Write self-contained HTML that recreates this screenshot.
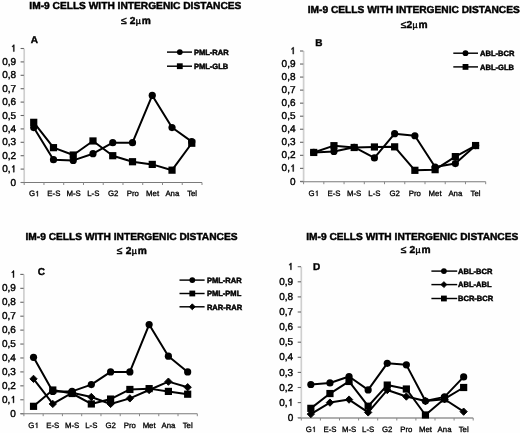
<!DOCTYPE html>
<html><head><meta charset="utf-8"><style>
html,body{margin:0;padding:0;background:#fefefe;}
body{width:520px;height:433px;overflow:hidden;}
svg{display:block;filter:blur(0.35px);}
text{font-family:"Liberation Sans", sans-serif;fill:#000;text-rendering:geometricPrecision;}
.t{font-size:10.2px;font-weight:bold;stroke:#000;stroke-width:0.45px;}
.t2{letter-spacing:0.25px;}
.mu{font-weight:normal;font-size:8.8px;}
.le{font-weight:normal;stroke-width:0.5px;}
.l{font-size:10px;font-weight:bold;stroke:#000;stroke-width:0.4px;}
.yl{font-size:10px;fill:#000;stroke:#000;stroke-width:0.4px;}
.yg{fill:#000;stroke:#000;stroke-width:82px;}
.xl{font-size:7.8px;fill:#000;stroke:#000;stroke-width:0.3px;}
.lg{font-size:7.55px;font-weight:bold;stroke:#000;stroke-width:0.45px;}
.ya{stroke:#cfcfcf;stroke-width:1.7;}
.tk{stroke:#666;stroke-width:1.1;}
.tk2{stroke:#888;stroke-width:1;}
.xa{stroke:#7a7a7a;stroke-width:1.15;}
.xad{stroke:#959595;stroke-width:1.7;}
.ll{stroke:#000;stroke-width:1.45;}
.ln{fill:none;stroke:#000;stroke-width:2.0;stroke-linejoin:round;}
</style></head><body>
<svg width="520" height="433" viewBox="0 0 520 433">
<rect width="520" height="433" fill="#fefefe"/>
<text x="135.35" y="9.3" class="t" text-anchor="middle">IM-9 CELLS WITH INTERGENIC DISTANCES</text>
<text x="136.02" y="24.1" class="t t2" text-anchor="middle"><tspan class="le">≤</tspan> 2<tspan class="mu">µ</tspan><tspan dx="0.7">m</tspan></text>
<text x="30.8" y="42.6" class="l">A</text>
<line x1="24.2" y1="48.5" x2="24.2" y2="182.5" class="ya"/>
<line x1="20.60" y1="182.50" x2="23.90" y2="182.50" class="tk"/>
<text x="16.10" y="185.60" class="yl" text-anchor="end">0</text>
<line x1="20.60" y1="169.10" x2="23.90" y2="169.10" class="tk"/>
<text x="10.54" y="172.20" class="yl" text-anchor="end">0,</text>
<path class="yg" transform="translate(10.54 172.20) scale(0.00488 -0.00488)" d="M763 0L583 0L583 1100C540 1060 480 1020 420 990C380 970 350 955 320 945L320 1110C400 1145 470 1200 520 1260C570 1320 605 1370 625 1409L763 1409Z"/>
<line x1="20.60" y1="155.70" x2="23.90" y2="155.70" class="tk"/>
<text x="16.10" y="158.80" class="yl" text-anchor="end">0,2</text>
<line x1="20.60" y1="142.30" x2="23.90" y2="142.30" class="tk"/>
<text x="16.10" y="145.40" class="yl" text-anchor="end">0,3</text>
<line x1="20.60" y1="128.90" x2="23.90" y2="128.90" class="tk"/>
<text x="16.10" y="132.00" class="yl" text-anchor="end">0,4</text>
<line x1="20.60" y1="115.50" x2="23.90" y2="115.50" class="tk"/>
<text x="16.10" y="118.60" class="yl" text-anchor="end">0,5</text>
<line x1="20.60" y1="102.10" x2="23.90" y2="102.10" class="tk"/>
<text x="16.10" y="105.20" class="yl" text-anchor="end">0,6</text>
<line x1="20.60" y1="88.70" x2="23.90" y2="88.70" class="tk"/>
<text x="16.10" y="91.80" class="yl" text-anchor="end">0,7</text>
<line x1="20.60" y1="75.30" x2="23.90" y2="75.30" class="tk"/>
<text x="16.10" y="78.40" class="yl" text-anchor="end">0,8</text>
<line x1="20.60" y1="61.90" x2="23.90" y2="61.90" class="tk"/>
<text x="16.10" y="65.00" class="yl" text-anchor="end">0,9</text>
<line x1="20.60" y1="48.50" x2="23.90" y2="48.50" class="tk"/>
<path class="yg" transform="translate(10.54 51.60) scale(0.00488 -0.00488)" d="M763 0L583 0L583 1100C540 1060 480 1020 420 990C380 970 350 955 320 945L320 1110C400 1145 470 1200 520 1260C570 1320 605 1370 625 1409L763 1409Z"/>
<line x1="21.00" y1="182.5" x2="202.0" y2="182.5" class="xa"/>
<line x1="24.20" y1="182.5" x2="24.20" y2="185.00" class="tk2"/>
<line x1="43.96" y1="182.5" x2="43.96" y2="185.00" class="tk2"/>
<line x1="63.71" y1="182.5" x2="63.71" y2="185.00" class="tk2"/>
<line x1="83.47" y1="182.5" x2="83.47" y2="185.00" class="tk2"/>
<line x1="103.22" y1="182.5" x2="103.22" y2="185.00" class="tk2"/>
<line x1="122.98" y1="182.5" x2="122.98" y2="185.00" class="tk2"/>
<line x1="142.73" y1="182.5" x2="142.73" y2="185.00" class="tk2"/>
<line x1="162.49" y1="182.5" x2="162.49" y2="185.00" class="tk2"/>
<line x1="182.24" y1="182.5" x2="182.24" y2="185.00" class="tk2"/>
<line x1="202.00" y1="182.5" x2="202.00" y2="185.00" class="tk2"/>
<text x="28.88" y="196.3" class="xl">G</text>
<path class="yg" transform="translate(34.94 196.30) scale(0.00381 -0.00381)" d="M763 0L583 0L583 1100C540 1060 480 1020 420 990C380 970 350 955 320 945L320 1110C400 1145 470 1200 520 1260C570 1320 605 1370 625 1409L763 1409Z"/>
<text x="53.83" y="196.3" class="xl" text-anchor="middle">E-S</text>
<text x="73.59" y="196.3" class="xl" text-anchor="middle">M-S</text>
<text x="93.34" y="196.3" class="xl" text-anchor="middle">L-S</text>
<text x="113.10" y="196.3" class="xl" text-anchor="middle">G2</text>
<text x="132.86" y="196.3" class="xl" text-anchor="middle">Pro</text>
<text x="152.61" y="196.3" class="xl" text-anchor="middle">Met</text>
<text x="172.37" y="196.3" class="xl" text-anchor="middle">Ana</text>
<text x="192.12" y="196.3" class="xl" text-anchor="middle">Tel</text>
<polyline points="33.73,127.56 53.48,159.72 73.24,160.39 92.99,153.69 112.75,142.70 132.51,142.70 152.26,95.40 172.02,127.56 191.77,141.63" class="ln"/>
<circle cx="33.73" cy="127.56" r="3.60"/>
<circle cx="53.48" cy="159.72" r="3.60"/>
<circle cx="73.24" cy="160.39" r="3.60"/>
<circle cx="92.99" cy="153.69" r="3.60"/>
<circle cx="112.75" cy="142.70" r="3.60"/>
<circle cx="132.51" cy="142.70" r="3.60"/>
<circle cx="152.26" cy="95.40" r="3.60"/>
<circle cx="172.02" cy="127.56" r="3.60"/>
<circle cx="191.77" cy="141.63" r="3.60"/>
<polyline points="33.73,122.33 53.48,147.66 73.24,155.03 92.99,140.96 112.75,155.70 132.51,161.73 152.26,164.41 172.02,170.17 191.77,143.24" class="ln"/>
<rect x="30.13" y="118.73" width="7.20" height="7.20"/>
<rect x="49.88" y="144.06" width="7.20" height="7.20"/>
<rect x="69.64" y="151.43" width="7.20" height="7.20"/>
<rect x="89.39" y="137.36" width="7.20" height="7.20"/>
<rect x="109.15" y="152.10" width="7.20" height="7.20"/>
<rect x="128.91" y="158.13" width="7.20" height="7.20"/>
<rect x="148.66" y="160.81" width="7.20" height="7.20"/>
<rect x="168.42" y="166.57" width="7.20" height="7.20"/>
<rect x="188.17" y="139.64" width="7.20" height="7.20"/>
<line x1="167" y1="52.1" x2="192" y2="52.1" class="ll"/>
<circle cx="179.80" cy="52.10" r="2.90"/>
<text x="193.9" y="54.80" class="lg">PML-RAR</text>
<line x1="167" y1="66.2" x2="192" y2="66.2" class="ll"/>
<rect x="176.90" y="63.30" width="5.80" height="5.80"/>
<text x="193.9" y="68.90" class="lg">PML-GLB</text>
<text x="413.8" y="13.0" class="t" text-anchor="middle">IM-9 CELLS WITH INTERGENIC DISTANCES</text>
<text x="414.22" y="27.7" class="t t2" text-anchor="middle"><tspan class="le">≤</tspan>2<tspan class="mu">µ</tspan><tspan dx="0.7">m</tspan></text>
<text x="315.3" y="46.4" class="l">B</text>
<line x1="303.6" y1="51.0" x2="303.6" y2="181.4" class="ya"/>
<line x1="300.00" y1="181.40" x2="303.30" y2="181.40" class="tk"/>
<text x="295.50" y="184.50" class="yl" text-anchor="end">0</text>
<line x1="300.00" y1="168.36" x2="303.30" y2="168.36" class="tk"/>
<text x="289.94" y="171.46" class="yl" text-anchor="end">0,</text>
<path class="yg" transform="translate(289.94 171.46) scale(0.00488 -0.00488)" d="M763 0L583 0L583 1100C540 1060 480 1020 420 990C380 970 350 955 320 945L320 1110C400 1145 470 1200 520 1260C570 1320 605 1370 625 1409L763 1409Z"/>
<line x1="300.00" y1="155.32" x2="303.30" y2="155.32" class="tk"/>
<text x="295.50" y="158.42" class="yl" text-anchor="end">0,2</text>
<line x1="300.00" y1="142.28" x2="303.30" y2="142.28" class="tk"/>
<text x="295.50" y="145.38" class="yl" text-anchor="end">0,3</text>
<line x1="300.00" y1="129.24" x2="303.30" y2="129.24" class="tk"/>
<text x="295.50" y="132.34" class="yl" text-anchor="end">0,4</text>
<line x1="300.00" y1="116.20" x2="303.30" y2="116.20" class="tk"/>
<text x="295.50" y="119.30" class="yl" text-anchor="end">0,5</text>
<line x1="300.00" y1="103.16" x2="303.30" y2="103.16" class="tk"/>
<text x="295.50" y="106.26" class="yl" text-anchor="end">0,6</text>
<line x1="300.00" y1="90.12" x2="303.30" y2="90.12" class="tk"/>
<text x="295.50" y="93.22" class="yl" text-anchor="end">0,7</text>
<line x1="300.00" y1="77.08" x2="303.30" y2="77.08" class="tk"/>
<text x="295.50" y="80.18" class="yl" text-anchor="end">0,8</text>
<line x1="300.00" y1="64.04" x2="303.30" y2="64.04" class="tk"/>
<text x="295.50" y="67.14" class="yl" text-anchor="end">0,9</text>
<line x1="300.00" y1="51.00" x2="303.30" y2="51.00" class="tk"/>
<path class="yg" transform="translate(289.94 54.10) scale(0.00488 -0.00488)" d="M763 0L583 0L583 1100C540 1060 480 1020 420 990C380 970 350 955 320 945L320 1110C400 1145 470 1200 520 1260C570 1320 605 1370 625 1409L763 1409Z"/>
<line x1="300.40" y1="181.70000000000002" x2="485.7" y2="181.70000000000002" class="xa"/>
<line x1="303.60" y1="181.70000000000002" x2="303.60" y2="184.20" class="tk2"/>
<line x1="323.83" y1="181.70000000000002" x2="323.83" y2="184.20" class="tk2"/>
<line x1="344.07" y1="181.70000000000002" x2="344.07" y2="184.20" class="tk2"/>
<line x1="364.30" y1="181.70000000000002" x2="364.30" y2="184.20" class="tk2"/>
<line x1="384.53" y1="181.70000000000002" x2="384.53" y2="184.20" class="tk2"/>
<line x1="404.77" y1="181.70000000000002" x2="404.77" y2="184.20" class="tk2"/>
<line x1="425.00" y1="181.70000000000002" x2="425.00" y2="184.20" class="tk2"/>
<line x1="445.23" y1="181.70000000000002" x2="445.23" y2="184.20" class="tk2"/>
<line x1="465.47" y1="181.70000000000002" x2="465.47" y2="184.20" class="tk2"/>
<line x1="485.70" y1="181.70000000000002" x2="485.70" y2="184.20" class="tk2"/>
<text x="308.51" y="196.0" class="xl">G</text>
<path class="yg" transform="translate(314.58 196.00) scale(0.00381 -0.00381)" d="M763 0L583 0L583 1100C540 1060 480 1020 420 990C380 970 350 955 320 945L320 1110C400 1145 470 1200 520 1260C570 1320 605 1370 625 1409L763 1409Z"/>
<text x="333.95" y="196.0" class="xl" text-anchor="middle">E-S</text>
<text x="354.18" y="196.0" class="xl" text-anchor="middle">M-S</text>
<text x="374.42" y="196.0" class="xl" text-anchor="middle">L-S</text>
<text x="394.65" y="196.0" class="xl" text-anchor="middle">G2</text>
<text x="414.88" y="196.0" class="xl" text-anchor="middle">Pro</text>
<text x="435.12" y="196.0" class="xl" text-anchor="middle">Met</text>
<text x="455.35" y="196.0" class="xl" text-anchor="middle">Ana</text>
<text x="475.58" y="196.0" class="xl" text-anchor="middle">Tel</text>
<polyline points="313.72,152.45 333.95,151.41 354.18,147.24 374.42,157.93 394.65,133.67 414.88,135.76 435.12,167.06 455.35,163.54 475.58,145.54" class="ln"/>
<circle cx="313.72" cy="152.45" r="3.60"/>
<circle cx="333.95" cy="151.41" r="3.60"/>
<circle cx="354.18" cy="147.24" r="3.60"/>
<circle cx="374.42" cy="157.93" r="3.60"/>
<circle cx="394.65" cy="133.67" r="3.60"/>
<circle cx="414.88" cy="135.76" r="3.60"/>
<circle cx="435.12" cy="167.06" r="3.60"/>
<circle cx="455.35" cy="163.54" r="3.60"/>
<circle cx="475.58" cy="145.54" r="3.60"/>
<polyline points="313.72,152.45 333.95,145.67 354.18,147.50 374.42,146.97 394.65,146.84 414.88,170.32 435.12,169.66 455.35,156.62 475.58,145.54" class="ln"/>
<rect x="310.12" y="148.85" width="7.20" height="7.20"/>
<rect x="330.35" y="142.07" width="7.20" height="7.20"/>
<rect x="350.58" y="143.90" width="7.20" height="7.20"/>
<rect x="370.82" y="143.37" width="7.20" height="7.20"/>
<rect x="391.05" y="143.24" width="7.20" height="7.20"/>
<rect x="411.28" y="166.72" width="7.20" height="7.20"/>
<rect x="431.52" y="166.06" width="7.20" height="7.20"/>
<rect x="451.75" y="153.02" width="7.20" height="7.20"/>
<rect x="471.98" y="141.94" width="7.20" height="7.20"/>
<line x1="453.3" y1="53.2" x2="478" y2="53.2" class="ll"/>
<circle cx="465.50" cy="53.20" r="2.90"/>
<text x="480" y="55.90" class="lg">ABL-BCR</text>
<line x1="453.3" y1="66.9" x2="478" y2="66.9" class="ll"/>
<rect x="462.60" y="64.00" width="5.80" height="5.80"/>
<text x="480" y="69.60" class="lg">ABL-GLB</text>
<text x="131.5" y="239.7" class="t" text-anchor="middle">IM-9 CELLS WITH INTERGENIC DISTANCES</text>
<text x="131.92000000000002" y="253.9" class="t t2" text-anchor="middle"><tspan class="le">≤</tspan> 2<tspan class="mu">µ</tspan><tspan dx="0.7">m</tspan></text>
<text x="37.8" y="274.8" class="l">C</text>
<line x1="23.9" y1="274.4" x2="23.9" y2="413.7" class="ya"/>
<line x1="20.30" y1="413.70" x2="23.60" y2="413.70" class="tk"/>
<text x="15.80" y="416.80" class="yl" text-anchor="end">0</text>
<line x1="20.30" y1="399.77" x2="23.60" y2="399.77" class="tk"/>
<text x="10.24" y="402.87" class="yl" text-anchor="end">0,</text>
<path class="yg" transform="translate(10.24 402.87) scale(0.00488 -0.00488)" d="M763 0L583 0L583 1100C540 1060 480 1020 420 990C380 970 350 955 320 945L320 1110C400 1145 470 1200 520 1260C570 1320 605 1370 625 1409L763 1409Z"/>
<line x1="20.30" y1="385.84" x2="23.60" y2="385.84" class="tk"/>
<text x="15.80" y="388.94" class="yl" text-anchor="end">0,2</text>
<line x1="20.30" y1="371.91" x2="23.60" y2="371.91" class="tk"/>
<text x="15.80" y="375.01" class="yl" text-anchor="end">0,3</text>
<line x1="20.30" y1="357.98" x2="23.60" y2="357.98" class="tk"/>
<text x="15.80" y="361.08" class="yl" text-anchor="end">0,4</text>
<line x1="20.30" y1="344.05" x2="23.60" y2="344.05" class="tk"/>
<text x="15.80" y="347.15" class="yl" text-anchor="end">0,5</text>
<line x1="20.30" y1="330.12" x2="23.60" y2="330.12" class="tk"/>
<text x="15.80" y="333.22" class="yl" text-anchor="end">0,6</text>
<line x1="20.30" y1="316.19" x2="23.60" y2="316.19" class="tk"/>
<text x="15.80" y="319.29" class="yl" text-anchor="end">0,7</text>
<line x1="20.30" y1="302.26" x2="23.60" y2="302.26" class="tk"/>
<text x="15.80" y="305.36" class="yl" text-anchor="end">0,8</text>
<line x1="20.30" y1="288.33" x2="23.60" y2="288.33" class="tk"/>
<text x="15.80" y="291.43" class="yl" text-anchor="end">0,9</text>
<line x1="20.30" y1="274.40" x2="23.60" y2="274.40" class="tk"/>
<path class="yg" transform="translate(10.24 277.50) scale(0.00488 -0.00488)" d="M763 0L583 0L583 1100C540 1060 480 1020 420 990C380 970 350 955 320 945L320 1110C400 1145 470 1200 520 1260C570 1320 605 1370 625 1409L763 1409Z"/>
<line x1="20.70" y1="413.7" x2="197.3" y2="413.7" class="xa"/>
<line x1="23.90" y1="413.7" x2="23.90" y2="416.20" class="tk2"/>
<line x1="43.17" y1="413.7" x2="43.17" y2="416.20" class="tk2"/>
<line x1="62.43" y1="413.7" x2="62.43" y2="416.20" class="tk2"/>
<line x1="81.70" y1="413.7" x2="81.70" y2="416.20" class="tk2"/>
<line x1="100.97" y1="413.7" x2="100.97" y2="416.20" class="tk2"/>
<line x1="120.23" y1="413.7" x2="120.23" y2="416.20" class="tk2"/>
<line x1="139.50" y1="413.7" x2="139.50" y2="416.20" class="tk2"/>
<line x1="158.77" y1="413.7" x2="158.77" y2="416.20" class="tk2"/>
<line x1="178.03" y1="413.7" x2="178.03" y2="416.20" class="tk2"/>
<line x1="197.30" y1="413.7" x2="197.30" y2="416.20" class="tk2"/>
<text x="28.33" y="428.0" class="xl">G</text>
<path class="yg" transform="translate(34.40 428.00) scale(0.00381 -0.00381)" d="M763 0L583 0L583 1100C540 1060 480 1020 420 990C380 970 350 955 320 945L320 1110C400 1145 470 1200 520 1260C570 1320 605 1370 625 1409L763 1409Z"/>
<text x="52.80" y="428.0" class="xl" text-anchor="middle">E-S</text>
<text x="72.07" y="428.0" class="xl" text-anchor="middle">M-S</text>
<text x="91.33" y="428.0" class="xl" text-anchor="middle">L-S</text>
<text x="110.60" y="428.0" class="xl" text-anchor="middle">G2</text>
<text x="129.87" y="428.0" class="xl" text-anchor="middle">Pro</text>
<text x="149.13" y="428.0" class="xl" text-anchor="middle">Met</text>
<text x="168.40" y="428.0" class="xl" text-anchor="middle">Ana</text>
<text x="187.67" y="428.0" class="xl" text-anchor="middle">Tel</text>
<polyline points="33.53,357.28 52.80,391.41 72.07,391.41 91.33,384.59 110.60,371.91 129.87,371.91 149.13,324.55 168.40,356.17 187.67,371.91" class="ln"/>
<circle cx="33.53" cy="357.28" r="3.60"/>
<circle cx="52.80" cy="391.41" r="3.60"/>
<circle cx="72.07" cy="391.41" r="3.60"/>
<circle cx="91.33" cy="384.59" r="3.60"/>
<circle cx="110.60" cy="371.91" r="3.60"/>
<circle cx="129.87" cy="371.91" r="3.60"/>
<circle cx="149.13" cy="324.55" r="3.60"/>
<circle cx="168.40" cy="356.17" r="3.60"/>
<circle cx="187.67" cy="371.91" r="3.60"/>
<polyline points="33.53,406.32 52.80,390.02 72.07,393.50 91.33,403.95 110.60,399.07 129.87,389.46 149.13,388.63 168.40,391.41 187.67,394.20" class="ln"/>
<rect x="29.93" y="402.72" width="7.20" height="7.20"/>
<rect x="49.20" y="386.42" width="7.20" height="7.20"/>
<rect x="68.47" y="389.90" width="7.20" height="7.20"/>
<rect x="87.73" y="400.35" width="7.20" height="7.20"/>
<rect x="107.00" y="395.47" width="7.20" height="7.20"/>
<rect x="126.27" y="385.86" width="7.20" height="7.20"/>
<rect x="145.53" y="385.03" width="7.20" height="7.20"/>
<rect x="164.80" y="387.81" width="7.20" height="7.20"/>
<rect x="184.07" y="390.60" width="7.20" height="7.20"/>
<polyline points="33.53,378.88 52.80,403.95 72.07,392.81 91.33,396.98 110.60,403.95 129.87,398.38 149.13,390.02 168.40,381.66 187.67,387.23" class="ln"/>
<path stroke="#000" stroke-width="0.9" stroke-linejoin="round" d="M33.53 375.20L37.21 378.88L33.53 382.55L29.86 378.88Z"/>
<path stroke="#000" stroke-width="0.9" stroke-linejoin="round" d="M52.80 400.28L56.47 403.95L52.80 407.62L49.13 403.95Z"/>
<path stroke="#000" stroke-width="0.9" stroke-linejoin="round" d="M72.07 389.13L75.74 392.81L72.07 396.48L68.39 392.81Z"/>
<path stroke="#000" stroke-width="0.9" stroke-linejoin="round" d="M91.33 393.31L95.01 396.98L91.33 400.66L87.66 396.98Z"/>
<path stroke="#000" stroke-width="0.9" stroke-linejoin="round" d="M110.60 400.28L114.27 403.95L110.60 407.62L106.93 403.95Z"/>
<path stroke="#000" stroke-width="0.9" stroke-linejoin="round" d="M129.87 394.70L133.54 398.38L129.87 402.05L126.19 398.38Z"/>
<path stroke="#000" stroke-width="0.9" stroke-linejoin="round" d="M149.13 386.35L152.81 390.02L149.13 393.69L145.46 390.02Z"/>
<path stroke="#000" stroke-width="0.9" stroke-linejoin="round" d="M168.40 377.99L172.07 381.66L168.40 385.33L164.73 381.66Z"/>
<path stroke="#000" stroke-width="0.9" stroke-linejoin="round" d="M187.67 383.56L191.34 387.23L187.67 390.91L183.99 387.23Z"/>
<line x1="179.5" y1="280.1" x2="204.6" y2="280.1" class="ll"/>
<circle cx="192.30" cy="280.10" r="2.90"/>
<text x="206.9" y="282.80" class="lg">PML-RAR</text>
<line x1="179.5" y1="293.5" x2="204.6" y2="293.5" class="ll"/>
<rect x="189.40" y="290.60" width="5.80" height="5.80"/>
<text x="206.9" y="296.20" class="lg">PML-PML</text>
<line x1="179.5" y1="306.8" x2="204.6" y2="306.8" class="ll"/>
<path stroke="#000" stroke-width="0.9" stroke-linejoin="round" d="M192.30 303.84L195.26 306.80L192.30 309.76L189.34 306.80Z"/>
<text x="206.9" y="309.50" class="lg">RAR-RAR</text>
<text x="412.3" y="239.6" class="t" text-anchor="middle">IM-9 CELLS WITH INTERGENIC DISTANCES</text>
<text x="415.72" y="252.9" class="t t2" text-anchor="middle"><tspan class="le">≤</tspan> 2<tspan class="mu">µ</tspan><tspan dx="0.7">m</tspan></text>
<text x="313.0" y="269.8" class="l">D</text>
<line x1="301.3" y1="266.7" x2="301.3" y2="417.7" class="ya"/>
<line x1="297.70" y1="417.70" x2="301.00" y2="417.70" class="tk"/>
<text x="293.20" y="420.80" class="yl" text-anchor="end">0</text>
<line x1="297.70" y1="402.60" x2="301.00" y2="402.60" class="tk"/>
<text x="287.64" y="405.70" class="yl" text-anchor="end">0,</text>
<path class="yg" transform="translate(287.64 405.70) scale(0.00488 -0.00488)" d="M763 0L583 0L583 1100C540 1060 480 1020 420 990C380 970 350 955 320 945L320 1110C400 1145 470 1200 520 1260C570 1320 605 1370 625 1409L763 1409Z"/>
<line x1="297.70" y1="387.50" x2="301.00" y2="387.50" class="tk"/>
<text x="293.20" y="390.60" class="yl" text-anchor="end">0,2</text>
<line x1="297.70" y1="372.40" x2="301.00" y2="372.40" class="tk"/>
<text x="293.20" y="375.50" class="yl" text-anchor="end">0,3</text>
<line x1="297.70" y1="357.30" x2="301.00" y2="357.30" class="tk"/>
<text x="293.20" y="360.40" class="yl" text-anchor="end">0,4</text>
<line x1="297.70" y1="342.20" x2="301.00" y2="342.20" class="tk"/>
<text x="293.20" y="345.30" class="yl" text-anchor="end">0,5</text>
<line x1="297.70" y1="327.10" x2="301.00" y2="327.10" class="tk"/>
<text x="293.20" y="330.20" class="yl" text-anchor="end">0,6</text>
<line x1="297.70" y1="312.00" x2="301.00" y2="312.00" class="tk"/>
<text x="293.20" y="315.10" class="yl" text-anchor="end">0,7</text>
<line x1="297.70" y1="296.90" x2="301.00" y2="296.90" class="tk"/>
<text x="293.20" y="300.00" class="yl" text-anchor="end">0,8</text>
<line x1="297.70" y1="281.80" x2="301.00" y2="281.80" class="tk"/>
<text x="293.20" y="284.90" class="yl" text-anchor="end">0,9</text>
<line x1="297.70" y1="266.70" x2="301.00" y2="266.70" class="tk"/>
<path class="yg" transform="translate(287.64 269.80) scale(0.00488 -0.00488)" d="M763 0L583 0L583 1100C540 1060 480 1020 420 990C380 970 350 955 320 945L320 1110C400 1145 470 1200 520 1260C570 1320 605 1370 625 1409L763 1409Z"/>
<line x1="298.10" y1="418.0" x2="473.2" y2="418.0" class="xa xad"/>
<line x1="301.30" y1="418.0" x2="301.30" y2="420.50" class="tk2"/>
<line x1="320.40" y1="418.0" x2="320.40" y2="420.50" class="tk2"/>
<line x1="339.50" y1="418.0" x2="339.50" y2="420.50" class="tk2"/>
<line x1="358.60" y1="418.0" x2="358.60" y2="420.50" class="tk2"/>
<line x1="377.70" y1="418.0" x2="377.70" y2="420.50" class="tk2"/>
<line x1="396.80" y1="418.0" x2="396.80" y2="420.50" class="tk2"/>
<line x1="415.90" y1="418.0" x2="415.90" y2="420.50" class="tk2"/>
<line x1="435.00" y1="418.0" x2="435.00" y2="420.50" class="tk2"/>
<line x1="454.10" y1="418.0" x2="454.10" y2="420.50" class="tk2"/>
<line x1="473.20" y1="418.0" x2="473.20" y2="420.50" class="tk2"/>
<text x="305.65" y="432.0" class="xl">G</text>
<path class="yg" transform="translate(311.72 432.00) scale(0.00381 -0.00381)" d="M763 0L583 0L583 1100C540 1060 480 1020 420 990C380 970 350 955 320 945L320 1110C400 1145 470 1200 520 1260C570 1320 605 1370 625 1409L763 1409Z"/>
<text x="329.95" y="432.0" class="xl" text-anchor="middle">E-S</text>
<text x="349.05" y="432.0" class="xl" text-anchor="middle">M-S</text>
<text x="368.15" y="432.0" class="xl" text-anchor="middle">L-S</text>
<text x="387.25" y="432.0" class="xl" text-anchor="middle">G2</text>
<text x="406.35" y="432.0" class="xl" text-anchor="middle">Pro</text>
<text x="425.45" y="432.0" class="xl" text-anchor="middle">Met</text>
<text x="444.55" y="432.0" class="xl" text-anchor="middle">Ana</text>
<text x="463.65" y="432.0" class="xl" text-anchor="middle">Tel</text>
<polyline points="310.85,384.48 329.95,382.97 349.05,376.48 368.15,389.92 387.25,363.34 406.35,364.85 425.45,401.09 444.55,396.86 463.65,376.93" class="ln"/>
<circle cx="310.85" cy="384.48" r="3.60"/>
<circle cx="329.95" cy="382.97" r="3.60"/>
<circle cx="349.05" cy="376.48" r="3.60"/>
<circle cx="368.15" cy="389.92" r="3.60"/>
<circle cx="387.25" cy="363.34" r="3.60"/>
<circle cx="406.35" cy="364.85" r="3.60"/>
<circle cx="425.45" cy="401.09" r="3.60"/>
<circle cx="444.55" cy="396.86" r="3.60"/>
<circle cx="463.65" cy="376.93" r="3.60"/>
<polyline points="310.85,414.08 329.95,402.60 349.05,399.58 368.15,412.41 387.25,390.07 406.35,396.56 425.45,401.09 444.55,399.28 463.65,411.66" class="ln"/>
<path stroke="#000" stroke-width="0.9" stroke-linejoin="round" d="M310.85 410.40L314.52 414.08L310.85 417.75L307.18 414.08Z"/>
<path stroke="#000" stroke-width="0.9" stroke-linejoin="round" d="M329.95 398.93L333.62 402.60L329.95 406.27L326.28 402.60Z"/>
<path stroke="#000" stroke-width="0.9" stroke-linejoin="round" d="M349.05 395.91L352.72 399.58L349.05 403.25L345.38 399.58Z"/>
<path stroke="#000" stroke-width="0.9" stroke-linejoin="round" d="M368.15 408.74L371.82 412.41L368.15 416.09L364.48 412.41Z"/>
<path stroke="#000" stroke-width="0.9" stroke-linejoin="round" d="M387.25 386.39L390.92 390.07L387.25 393.74L383.58 390.07Z"/>
<path stroke="#000" stroke-width="0.9" stroke-linejoin="round" d="M406.35 392.89L410.02 396.56L406.35 400.23L402.68 396.56Z"/>
<path stroke="#000" stroke-width="0.9" stroke-linejoin="round" d="M425.45 397.42L429.12 401.09L425.45 404.76L421.78 401.09Z"/>
<path stroke="#000" stroke-width="0.9" stroke-linejoin="round" d="M444.55 395.61L448.22 399.28L444.55 402.95L440.88 399.28Z"/>
<path stroke="#000" stroke-width="0.9" stroke-linejoin="round" d="M463.65 407.99L467.32 411.66L463.65 415.33L459.98 411.66Z"/>
<polyline points="310.85,408.34 329.95,393.54 349.05,381.46 368.15,406.22 387.25,385.08 406.35,389.01 425.45,414.98 444.55,398.82 463.65,387.50" class="ln"/>
<rect x="307.25" y="404.74" width="7.20" height="7.20"/>
<rect x="326.35" y="389.94" width="7.20" height="7.20"/>
<rect x="345.45" y="377.86" width="7.20" height="7.20"/>
<rect x="364.55" y="402.62" width="7.20" height="7.20"/>
<rect x="383.65" y="381.48" width="7.20" height="7.20"/>
<rect x="402.75" y="385.41" width="7.20" height="7.20"/>
<rect x="421.85" y="411.38" width="7.20" height="7.20"/>
<rect x="440.95" y="395.22" width="7.20" height="7.20"/>
<rect x="460.05" y="383.90" width="7.20" height="7.20"/>
<line x1="431.4" y1="271.1" x2="457.2" y2="271.1" class="ll"/>
<circle cx="443.90" cy="271.10" r="2.90"/>
<text x="458.0" y="273.80" class="lg">ABL-BCR</text>
<line x1="431.4" y1="284.6" x2="457.2" y2="284.6" class="ll"/>
<path stroke="#000" stroke-width="0.9" stroke-linejoin="round" d="M443.90 281.64L446.86 284.60L443.90 287.56L440.94 284.60Z"/>
<text x="458.0" y="287.30" class="lg">ABL-ABL</text>
<line x1="431.4" y1="298.5" x2="457.2" y2="298.5" class="ll"/>
<rect x="441.00" y="295.60" width="5.80" height="5.80"/>
<text x="458.0" y="301.20" class="lg">BCR-BCR</text>
</svg>
</body></html>
